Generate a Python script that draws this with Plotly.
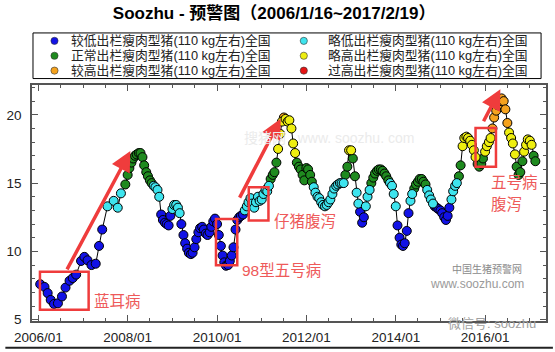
import plotly.graph_objects as go
import pandas as pd

# ---------------- data ----------------
# 2006-2007: sparse observations
early_dates = ["2006-01-16", "2006-02-20", "2006-03-18", "2006-04-12", "2006-05-09",
               "2006-06-10", "2006-07-13", "2006-08-11", "2006-09-13", "2006-10-09",
               "2006-11-06", "2006-12-16", "2007-01-12", "2007-02-07", "2007-03-11",
               "2007-04-15", "2007-05-12", "2007-06-07", "2007-07-20", "2007-09-09",
               "2007-10-12", "2007-11-07", "2007-12-13"]
early_prices = [7.6, 7.4, 6.95, 6.45, 6.15, 6.2, 6.7, 7.35, 7.85, 8.05, 8.3, 9.3,
                9.6, 9.35, 9.0, 9.1, 10.4, 11.6, 13.3, 13.7, 13.2, 14.25, 14.9]
early_levels = "BBBBBBBBBBBBBBBBBBCCCCG"

# 2008-01 .. 2017-02: two readings per month (1st and 15th)
prices_2008 = [15.6, 16.1, 16.5, 16.8, 17.0, 17.1, 17.2, 17.2, 16.9, 16.3, 15.8, 15.5,
               15.2, 15.0, 14.8, 14.7, 14.5, 14.0, 12.7, 12.3, 12.1, 12.0, 11.9, 12.6]
levels_2008 = "GGGGGGGGGGGGGGCCCCBBBBBB"
prices_2009 = [13.1, 13.4, 13.4, 13.2, 12.8, 12.0, 11.2, 10.6, 10.2, 9.9, 9.8, 9.9,
               10.3, 10.9, 11.4, 11.7, 11.8, 11.6, 11.3, 11.2, 11.4, 11.8, 12.2, 12.4]
levels_2009 = "CCCCCBBBBBBBBBBBBBBBBBBB"
prices_2010 = [12.0, 11.2, 10.4, 9.7, 9.2, 8.95, 9.0, 9.3, 9.7, 10.3, 11.6, 12.3,
               12.5, 12.6, 12.7, 13.0, 13.3, 13.6, 13.9, 13.5, 13.2, 13.6, 14.0, 13.7]
levels_2010 = "BBBBBBBBBBBBBBBCCCCCCCCC"
prices_2011 = [13.8, 14.2, 14.5, 14.4, 14.8, 15.3, 15.6, 15.8, 16.5, 17.5, 18.6, 19.5,
               19.8, 19.7, 19.5, 19.6, 19.0, 17.9, 17.2, 16.5, 16.2, 16.0, 15.6, 15.2]
levels_2011 = "CCCCCGGGGYYYOYYYYYYGGGGG"
prices_2012 = [16.1, 16.0, 15.6, 15.1, 14.7, 14.3, 14.0, 13.9, 13.6, 13.4, 13.3, 13.4,
               13.6, 13.8, 14.2, 14.6, 14.8, 14.9, 15.0, 15.0, 15.0, 15.6, 16.2, 17.4]
levels_2012 = "GGGGCCCCCCCCCCCCCCCCCGGY"
prices_2013 = [17.4, 16.8, 15.5, 14.3, 13.5, 12.9, 12.1, 12.5, 13.3, 14.0, 14.5, 15.0,
               15.4, 15.7, 15.9, 16.0, 16.0, 15.9, 15.7, 15.5, 15.2, 15.0, 14.8, 14.2]
levels_2013 = "YGGCCBBBCCCGGGGGGGGGGCCC"
prices_2014 = [13.3, 11.9, 11.0, 10.5, 10.4, 10.6, 11.5, 12.8, 13.7, 14.2, 14.6, 14.9,
               15.1, 15.3, 15.3, 15.1, 14.9, 14.5, 14.1, 13.8, 13.5, 13.3, 13.2, 13.1]
levels_2014 = "CBBBBBBBCCGGGGGGGCCCCBBB"
prices_2015 = [13.0, 12.8, 12.5, 12.3, 12.6, 13.2, 13.8, 14.4, 14.8, 15.0, 15.5, 16.3,
               17.7, 18.3, 18.4, 18.3, 18.1, 17.8, 17.4, 16.9, 16.4, 16.2, 16.4, 16.8]
levels_2015 = "BBBBBBCCCCGGYYYYYYYYGGGG"
prices_2016 = [17.3, 17.7, 18.0, 18.3, 19.0, 19.8, 20.3, 20.7, 21.0, 21.2, 21.0, 20.4,
               19.4, 18.7, 18.3, 17.9, 17.1, 16.2, 15.6, 15.8, 16.6, 17.3, 17.8, 18.2]
levels_2016 = "YYYYOOOOOOOOOYYYYGGGGYYY"
prices_2017 = [18.1, 17.8, 17.0, 16.6]
levels_2017 = "YYGG"

level_names = {
    "B": "较低出栏瘦肉型猪(110 kg左右)全国",
    "C": "略低出栏瘦肉型猪(110 kg左右)全国",
    "G": "正常出栏瘦肉型猪(110 kg左右)全国",
    "Y": "略高出栏瘦肉型猪(110 kg左右)全国",
    "O": "较高出栏瘦肉型猪(110 kg左右)全国",
    "R": "过高出栏瘦肉型猪(110 kg左右)全国",
}
level_colors = {"B": "#1212E6", "C": "#3EE4EE", "G": "#1F8A1F",
                "Y": "#EEEE10", "O": "#F5A31E", "R": "#E51414"}
legend_columns = [["B", "G", "O"], ["C", "Y", "R"]]

# ---------------- assemble ----------------
semi_prices = (prices_2008 + prices_2009 + prices_2010 + prices_2011 + prices_2012 +
               prices_2013 + prices_2014 + prices_2015 + prices_2016 + prices_2017)
semi_levels = (levels_2008 + levels_2009 + levels_2010 + levels_2011 + levels_2012 +
               levels_2013 + levels_2014 + levels_2015 + levels_2016 + levels_2017)
semi_dates = pd.date_range("2008-01-01", periods=len(semi_prices), freq="SMS")

df = pd.DataFrame({
    "date": list(pd.to_datetime(early_dates)) + list(semi_dates),
    "price": early_prices + semi_prices,
    "level": list(early_levels) + list(semi_levels),
})

CJK = "Liberation Sans, Arial, Noto Sans CJK SC"
RED = "#EF3C3C"
TXT_RED = "#EE5A5A"

# plot-area geometry in pixels (for paper-coordinate decorations)
L, R, T, B = 27, 548, 85, 323
W_PLOT, H_PLOT = R - L, B - T


def px(xp):
    return (xp - L) / W_PLOT


def py(yp):
    return (B - yp) / H_PLOT


fig = go.Figure()
fig.add_trace(go.Scatter(x=df["date"], y=df["price"], mode="lines",
                         line=dict(color="black", width=1), showlegend=False,
                         hoverinfo="skip"))
for col in legend_columns:
    for lv in col:
        sub = df[df["level"] == lv]
        xs = list(sub["date"]) if len(sub) else [None]
        ys = list(sub["price"]) if len(sub) else [None]
        fig.add_trace(go.Scatter(
            x=xs, y=ys, mode="markers", name=level_names[lv], showlegend=False,
            marker=dict(size=9, color=level_colors[lv],
                        line=dict(color="black", width=1)),
        ))

# ---------------- legend box (two columns, three rows) ----------------
fig.add_shape(type="rect", xref="paper", yref="paper",
              x0=px(28), x1=px(543), y0=py(78.5), y1=py(32.5),
              line=dict(color="black", width=1), fillcolor="white", layer="above")
col_marker_x = [49.8, 302.5]
col_text_x = [66.0, 326.0]
row_y = [40.5, 55.5, 70.5]
LEG_SIZE = 12.8
for c, col in enumerate(legend_columns):
    for r, lv in enumerate(col):
        fig.add_shape(type="circle", xref="paper", yref="paper",
                      xsizemode="pixel", ysizemode="pixel",
                      xanchor=px(col_marker_x[c]), yanchor=py(row_y[r]),
                      x0=-3.6, x1=3.6, y0=-3.6, y1=3.6,
                      fillcolor=level_colors[lv], line=dict(color="#333", width=0.6),
                      layer="above")
        fig.add_annotation(xref="paper", yref="paper", x=px(col_text_x[c]),
                           y=py(row_y[r]), text=level_names[lv], showarrow=False,
                           xanchor="left", yanchor="middle", borderpad=0,
                           font=dict(family=CJK, size=LEG_SIZE, color="#222"))

# ---------------- disease annotations ----------------
boxes = [
    ("2006-01-14", "2007-02-16", 5.73, 8.51),
    ("2009-12-23", "2010-06-15", 8.99, 12.38),
    ("2010-09-17", "2011-02-25", 12.26, 14.70),
    ("2015-10-15", "2016-03-30", 16.2, 19.03),
]
for x0, x1, y0, y1 in boxes:
    fig.add_shape(type="rect", xref="x", yref="y", x0=x0, x1=x1, y0=y0, y1=y1,
                  line=dict(color=RED, width=2.5), fillcolor="rgba(0,0,0,0)")

arrows = [
    ("2006-08-17", 8.57, "2008-01-23", 17.34),
    ("2010-06-28", 13.83, "2011-06-05", 19.71),
    ("2015-12-13", 19.42, "2016-05-05", 21.87),
]
for ax, ay, hx, hy in arrows:
    fig.add_annotation(x=hx, y=hy, ax=ax, ay=ay, xref="x", yref="y", axref="x", ayref="y",
                       text="", showarrow=True, arrowhead=2, arrowsize=1.15,
                       arrowwidth=3.5, arrowcolor=RED, standoff=0, startstandoff=0)

labels = [
    ("蓝耳病", "2007-03-18", 6.36),
    ("98型五号病", "2010-07-09", 8.61),
    ("仔猪腹泻", "2011-03-24", 12.16),
    ("五号病", "2016-01-30", 15.07),
    ("腹泻", "2016-01-30", 13.47),
]
for t, x, y in labels:
    fig.add_annotation(x=x, y=y, xref="x", yref="y", text=t, showarrow=False,
                       xanchor="left", yanchor="middle",
                       font=dict(family=CJK, size=15.5, color=TXT_RED))

# ---------------- watermarks ----------------
fig.add_annotation(xref="paper", yref="paper", x=px(240), y=py(138), xanchor="left",
                   yanchor="middle", text="搜猪网   www. soozhu. com",
                   showarrow=False, font=dict(family=CJK, size=14, color="#EBEBEB"))
fig.add_annotation(xref="paper", yref="paper", x=px(526), y=py(271), xanchor="right",
                   yanchor="middle", text="中国生猪预警网",
                   showarrow=False, font=dict(family=CJK, size=10, color="#8A8A8A"))
fig.add_annotation(xref="paper", yref="paper", x=px(528), y=py(286), xanchor="right",
                   yanchor="middle", text="www.soozhu.com",
                   showarrow=False, font=dict(family=CJK, size=12, color="#9A9A9A"))
fig.add_annotation(xref="paper", yref="paper", x=px(447), y=py(326), xanchor="left",
                   yanchor="middle", text="微信号: soozhu",
                   showarrow=False, font=dict(family=CJK, size=13, color="#A0A0A0"))

# outer bottom line
fig.add_shape(type="line", xref="paper", yref="paper", x0=px(0), x1=px(555),
              y0=py(350), y1=py(350), line=dict(color="#222", width=2))

axis_common = dict(showline=True, linecolor="#555", linewidth=1.5, mirror="ticks",
                   ticks="inside", ticklen=6, tickcolor="#555", tickwidth=1.2,
                   showgrid=False, zeroline=False,
                   tickfont=dict(family="Liberation Sans, Arial", size=13.5, color="#222"))

fig.update_layout(
    width=555, height=352,
    margin=dict(l=L, r=555 - R, t=T, b=352 - B),
    paper_bgcolor="white", plot_bgcolor="white",
    showlegend=False,
    title=dict(text="<b>Soozhu - 预警图（2006/1/16~2017/2/19）</b>",
               x=0.494, xanchor="center", y=1 - 13 / 352, yanchor="middle",
               font=dict(family=CJK, size=17, color="black")),
    xaxis=dict(type="date", range=["2005-11-10", "2017-05-13"],
               tick0="2006-01-01", dtick="M24", tickformat="%Y/%m",
               ticklabelstandoff=3,
               minor=dict(dtick="M6", tick0="2006-01-01", ticks="inside", ticklen=3,
                          tickcolor="#555"),
               **axis_common),
    yaxis=dict(range=[4.906, 22.18], tick0=5, dtick=5, ticklabelstandoff=6,
               minor=dict(dtick=1, tick0=5, ticks="inside", ticklen=3, tickcolor="#555"),
               **axis_common),
)

fig.write_html("out.html")
